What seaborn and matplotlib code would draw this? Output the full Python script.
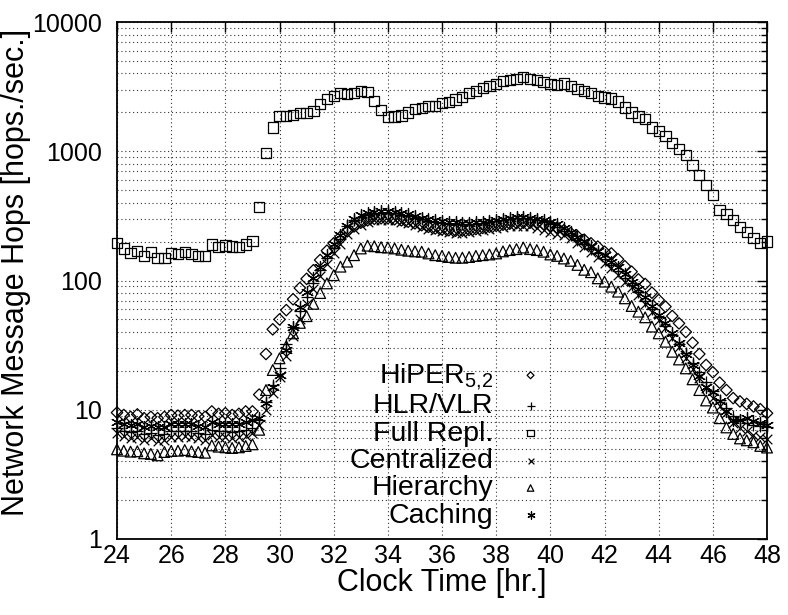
import numpy as np
import matplotlib
matplotlib.use("Agg")
import matplotlib.pyplot as plt
import seaborn as sns
from matplotlib.ticker import LogLocator, NullFormatter, FixedLocator, FixedFormatter

# sampling every 15 minutes, 24h .. 48h
hours = np.arange(24, 48.01, 0.25)

hiper = [9.5, 9.1, 8.8, 9.2, 8.6, 8.8, 8.6, 8.8, 9.1, 9.0, 9.1, 9.1, 8.9, 8.8, 9.7, 9.3, 9.4, 9.1, 9.3, 9.7, 9.7,
         13.1, 27, 41.9, 50, 59, 71.6, 87.5, 103, 120, 144, 170, 194, 218,
         240, 262, 280, 292, 300, 303, 303, 298, 292, 285, 277, 268, 260, 253, 248, 245, 243, 243, 246, 250,
         255, 260, 265, 270, 275, 278, 280, 280, 278, 272, 265, 256, 245, 233, 220, 207,
         194, 183, 167, 162, 146, 129, 117, 102, 94, 80.5, 70.6, 62.8, 53.1, 46.6, 40, 33, 27, 22.2, 19.5,
         16.2, 14.2, 12.3, 11.6, 11.1, 10.6, 10.1, 9.4]

hlr_vlr = [7.2, 6.9, 6.7, 6.9, 6.5, 6.6, 6.4, 6.5, 6.8, 6.8, 6.9, 6.8, 6.6, 6.5, 7.0, 6.8, 6.8, 6.7, 6.8, 7.0, 7.2,
           8.3, 11.5, 15.5, 21, 32, 44, 58, 75, 96, 120, 148, 178, 210,
           262, 295, 312, 322, 330, 333, 333, 330, 322, 315, 307, 298, 290, 284, 279, 276, 273, 272, 272, 275,
           279, 282, 287, 292, 298, 302, 302, 298, 292, 285, 275, 258,
           243, 226, 207, 193, 176, 162, 147, 132, 118, 105, 93, 81, 70, 60, 52, 44.5, 38, 32.5, 27.5, 23,
           19.5, 16.5, 14, 12, 10.3, 9.0, 8.3, 7.9, 7.6, 7.5, 7.3]

full_repl = [195, 177, 164, 169, 155, 167, 149, 149, 164, 160, 167, 160, 155, 155, 190, 181, 187, 183, 181, 190, 202,
             372, 975, 1530, 1875, 1875, 1900, 1965,
             1987, 2048, 2308, 2536, 2675, 2822, 2780, 2810, 2943, 2870, 2460, 2080, 1833,
             1855, 1890, 2000, 2112, 2173, 2229, 2240, 2350, 2410, 2510, 2640, 2810, 2943, 3070, 3215, 3310,
             3475, 3555, 3620, 3775, 3640, 3555,
             3420, 3310, 3240, 3350, 3200, 3050, 2930, 2810, 2675, 2610, 2560, 2430, 2185, 2000, 1855, 1775,
             1530, 1427, 1312, 1153, 1036, 931, 779, 655, 545, 461, 351, 327, 294, 258, 236, 214, 194, 200]

centralized = [6.6, 6.3, 6.0, 6.2, 5.8, 6.0, 5.7, 5.8, 6.2, 6.2, 6.3, 6.2, 6.0, 5.8, 6.4, 6.2, 6.2, 6.0, 6.1, 6.3, 6.6,
               7.6, 10, 13.5, 18, 26, 37, 50, 66, 86, 108, 135, 163, 192,
               228, 252, 270, 283, 292, 296, 296, 292, 285, 277, 268, 260, 252, 246, 240, 236, 234, 234, 236, 240,
               245, 250, 255, 260, 264, 266, 266, 262, 255, 247, 238, 230,
               225, 212, 194, 183, 167, 153, 136, 124, 110, 98, 88.5, 77, 65.8, 57.4, 49.5, 42.7, 35.7, 30.8, 25,
               20.6, 17.5, 14.7, 12.3, 10.6, 9.4, 7.85, 7.2, 6.8, 6.4, 6.1, 5.9]

hierarchy = [4.94, 4.82, 4.74, 4.77, 4.6, 4.55, 4.44, 4.71, 4.8, 4.82, 4.88, 4.77, 4.71, 4.65, 5.3, 5.18, 5.12,
             5.06, 5.12, 5.24, 5.4,
             7.0, 14.2, 20.3, 25, 31, 39, 47, 53, 66, 80, 95, 110, 128,
             140, 157, 177, 186, 184, 181, 180, 177, 173, 170, 168, 167, 162, 157, 155, 152, 150, 150, 152, 155,
             157, 159, 162, 168, 172, 175, 180, 175, 172, 167, 159, 155,
             148, 142, 132, 121, 116, 104, 98, 89.6, 82, 72.8, 63.5, 57.4, 51.9, 44, 39, 33.6, 28.1, 24.5, 20.9,
             17.2, 14.2, 11.8, 10.4, 8.6, 7.3, 6.5, 6.0, 5.8, 5.6, 5.25, 5.1]

caching = [8.0, 7.8, 7.6, 7.7, 7.4, 7.5, 7.3, 7.4, 7.7, 7.7, 7.8, 7.7, 7.5, 7.4, 8.0, 7.8, 7.8, 7.7, 7.8, 8.0, 8.3,
           8.6, 11.3, 15, 18.5, 29, 44, 62, 82, 104, 128, 158, 190, 225, 262, 297,
           321, 331, 341, 345, 345, 341, 331, 325, 318, 307, 300, 294, 288, 285, 282, 277, 277, 282, 285, 288,
           294, 300, 307, 312, 312, 307, 300, 294, 282, 272,
           253, 239, 218, 203, 185, 170, 157, 140, 127, 112, 98, 86, 75, 63.5, 54, 46.6, 39, 33, 27, 22.2,
           18.2, 15.1, 13.8, 11.6, 9.7, 8.4, 8.4, 8.6, 8.2, 7.85, 7.6]

labels = ["HiPER$_{5{,}2}$", "HLR/VLR", "Full Repl.", "Centralized", "Hierarchy", "Caching"]
values = [hiper, hlr_vlr, full_repl, centralized, hierarchy, caching]
markers = ["D", "+", "s", "x", "^", (6, 2, 0)]
hollow = [True, False, True, False, True, False]
sizes = [34, 75, 55, 48, 60, 75]

sns.set_theme(style="white")
plt.rcParams["font.family"] = ["Liberation Sans", "DejaVu Sans"]
plt.rcParams["mathtext.default"] = "regular"
plt.rcParams["text.color"] = "black"
plt.rcParams["axes.labelcolor"] = "black"
plt.rcParams["xtick.color"] = "black"
plt.rcParams["ytick.color"] = "black"

fig, ax = plt.subplots(figsize=(7.88, 6.15), dpi=100)
fig.subplots_adjust(left=0.1485, right=0.9734, top=0.9642, bottom=0.1236)

for lab, vals, m, h, sz in zip(labels, values, markers, hollow, sizes):
    if h:
        sns.scatterplot(x=hours, y=vals, marker=m, s=sz, facecolor="none", edgecolor="black",
                        linewidth=0.9, label=lab, ax=ax, clip_on=False, zorder=3)
    else:
        sns.scatterplot(x=hours, y=vals, marker=m, s=sz, color="black",
                        linewidth=0.9, label=lab, ax=ax, clip_on=False, zorder=3)

ax.set_yscale("log")
ax.set_ylim(1, 10000)
ax.set_xlim(24, 48)
ax.set_xticks(np.arange(24, 49, 2))
ax.yaxis.set_major_locator(FixedLocator([1, 10, 100, 1000, 10000]))
ax.yaxis.set_major_formatter(FixedFormatter(["1", "10", "100", "1000", "10000"]))
ax.yaxis.set_minor_locator(LogLocator(base=10, subs=np.arange(2, 10), numticks=20))
ax.yaxis.set_minor_formatter(NullFormatter())

ax.set_axisbelow(True)
ax.grid(True, which="major", axis="both", linestyle=(0, (1, 2.5)), linewidth=0.8, color="0.2")
ax.grid(True, which="minor", axis="y", linestyle=(0, (1, 2.5)), linewidth=0.8, color="0.2")

ax.tick_params(which="both", direction="in", top=True, right=True, labelsize=18)
ax.tick_params(which="major", length=7, width=1)
ax.tick_params(which="minor", length=4, width=1)
ax.tick_params(axis="y", which="major", pad=11)
for sp in ax.spines.values():
    sp.set_color("black")
    sp.set_linewidth(1.3)

ax.set_xlabel("Clock Time [hr.]", fontsize=22, labelpad=0)
ax.set_ylabel("Network Message Hops [hops./sec.]", fontsize=22)
ax.yaxis.set_label_coords(-0.133, 0.515)

ax.legend(loc="lower right", bbox_to_anchor=(0.68, -0.008), markerfirst=False, frameon=False,
          fontsize=20.5, labelspacing=0.05, handlelength=1.0, handletextpad=0.8,
          markerscale=0.6, borderpad=0.0)

fig.savefig("out.png", dpi=100)
